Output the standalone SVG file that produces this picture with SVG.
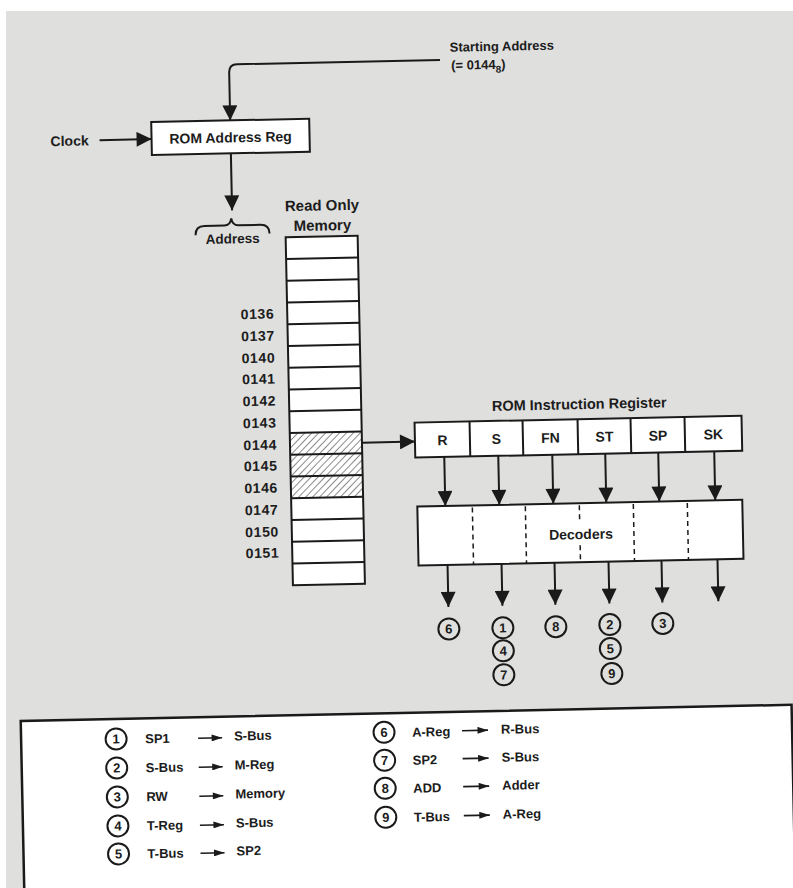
<svg xmlns="http://www.w3.org/2000/svg" width="793" height="888" viewBox="0 0 793 888">
<defs>
<style>
.t{font-family:"Liberation Sans",Arial,sans-serif;font-weight:bold;fill:#1c1c1c;}
.box{fill:#ffffff;stroke:#1a1a1a;stroke-width:2;}
.ln{fill:none;stroke:#1a1a1a;stroke-width:2;}
.cir{fill:none;stroke:#1a1a1a;stroke-width:2;}
.dash{stroke:#1a1a1a;stroke-width:1.5;stroke-dasharray:5 4;}
.lg{fill:none;stroke:#1a1a1a;stroke-width:1.6;}
</style>
<marker id="ah" viewBox="0 0 16 16" refX="16" refY="8" markerWidth="16" markerHeight="15" markerUnits="userSpaceOnUse" orient="auto">
<path d="M0,0 L16,8 L0,16 z" fill="#1a1a1a"/>
</marker>
<marker id="sh" viewBox="0 0 12 8" refX="12" refY="4" markerWidth="12" markerHeight="7" markerUnits="userSpaceOnUse" orient="auto">
<path d="M0,0 L12,4 L0,8 z" fill="#1a1a1a"/>
</marker>
<pattern id="hatch" patternUnits="userSpaceOnUse" width="5" height="5" patternTransform="rotate(45)">
<rect width="5" height="5" fill="#ffffff"/>
<line x1="0" y1="0" x2="0" y2="5" stroke="#2a2a2a" stroke-width="1.1"/>
</pattern>
</defs>
<rect x="0" y="0" width="793" height="888" fill="#ffffff"/>
<rect x="6" y="11" width="787" height="877" fill="#dfdfdd"/>
<g transform="rotate(-1.2 396 444)">
<g id="connectors">
<path class="ln" d="M448,61 L245,61 Q237,61 237,69 L237,117" marker-end="url(#ah)"/>
<path class="ln" d="M106,134 L158,134" marker-end="url(#ah)"/>
<path class="ln" d="M237,150 L237,207" marker-end="url(#ah)"/>
<path class="ln" d="M362,442 L415,442" marker-end="url(#ah)"/>
<path class="ln" d="M444,458 L444,507" marker-end="url(#ah)"/>
<path class="ln" d="M498,458 L498,507" marker-end="url(#ah)"/>
<path class="ln" d="M552,458 L552,507" marker-end="url(#ah)"/>
<path class="ln" d="M605,458 L605,507" marker-end="url(#ah)"/>
<path class="ln" d="M658,458 L658,507" marker-end="url(#ah)"/>
<path class="ln" d="M714,458 L714,507" marker-end="url(#ah)"/>
<path class="ln" d="M445,566 L445,608" marker-end="url(#ah)"/>
<path class="ln" d="M499,566 L499,608" marker-end="url(#ah)"/>
<path class="ln" d="M552,566 L552,608" marker-end="url(#ah)"/>
<path class="ln" d="M606,566 L606,608" marker-end="url(#ah)"/>
<path class="ln" d="M659,566 L659,608" marker-end="url(#ah)"/>
<path class="ln" d="M715,566 L715,608" marker-end="url(#ah)"/>
</g>
<g id="starting-address">
<text class="t" x="458" y="53" font-size="13">Starting Address</text>
<text class="t" x="459" y="71" font-size="13">(= 0144<tspan font-size="10" dy="4">8</tspan><tspan dy="-4">)</tspan></text>
</g>
<g id="clock">
<text class="t" x="76" y="139" font-size="14" text-anchor="middle">Clock</text>
</g>
<g id="rom-address-reg">
<rect class="box" x="158" y="117" width="158" height="33"/>
<text class="t" x="237" y="139" font-size="14" text-anchor="middle">ROM Address Reg</text>
</g>
<g id="address">
<path class="ln" d="M200,231 Q200,222 209,222 L229,222 Q235,222 236,215 Q237,222 243,222 L265,222 Q274,222 274,231"/>
<text class="t" x="237" y="240" font-size="13.5" text-anchor="middle">Address</text>
</g>
<g id="rom">
<text class="t" x="327" y="209" font-size="15" text-anchor="middle">Read Only</text>
<text class="t" x="327" y="229" font-size="15" text-anchor="middle">Memory</text>
<rect x="290" y="235" width="72" height="348" fill="#ffffff"/>
<rect x="290" y="430.75" width="72" height="65.25" fill="url(#hatch)"/>
<rect x="290" y="235" width="72" height="348" fill="none" stroke="#1a1a1a" stroke-width="2"/>
<g class="ln">
<line x1="290" y1="256.75" x2="362" y2="256.75"/>
<line x1="290" y1="278.5" x2="362" y2="278.5"/>
<line x1="290" y1="300.25" x2="362" y2="300.25"/>
<line x1="290" y1="322" x2="362" y2="322"/>
<line x1="290" y1="343.75" x2="362" y2="343.75"/>
<line x1="290" y1="365.5" x2="362" y2="365.5"/>
<line x1="290" y1="387.25" x2="362" y2="387.25"/>
<line x1="290" y1="409" x2="362" y2="409"/>
<line x1="290" y1="430.75" x2="362" y2="430.75"/>
<line x1="290" y1="452.5" x2="362" y2="452.5"/>
<line x1="290" y1="474.25" x2="362" y2="474.25"/>
<line x1="290" y1="496" x2="362" y2="496"/>
<line x1="290" y1="517.75" x2="362" y2="517.75"/>
<line x1="290" y1="539.5" x2="362" y2="539.5"/>
<line x1="290" y1="561.25" x2="362" y2="561.25"/>
</g>
<g class="t" font-size="14" text-anchor="end" letter-spacing="0.6">
<text x="277" y="316">0136</text>
<text x="277" y="338">0137</text>
<text x="277" y="360">0140</text>
<text x="277" y="381">0141</text>
<text x="277" y="403">0142</text>
<text x="277" y="425">0143</text>
<text x="277" y="447">0144</text>
<text x="277" y="468">0145</text>
<text x="277" y="490">0146</text>
<text x="277" y="512">0147</text>
<text x="277" y="534">0150</text>
<text x="277" y="555">0151</text>
</g>
</g>
<g id="rom-instruction-register">
<text class="t" x="580" y="413" font-size="14.5" text-anchor="middle">ROM Instruction Register</text>
<rect class="box" x="415" y="423" width="327" height="35"/>
<g class="ln">
<line x1="470" y1="423" x2="470" y2="458"/>
<line x1="523" y1="423" x2="523" y2="458"/>
<line x1="578" y1="423" x2="578" y2="458"/>
<line x1="631" y1="423" x2="631" y2="458"/>
<line x1="685" y1="423" x2="685" y2="458"/>
</g>
<g class="t" font-size="14" text-anchor="middle">
<text x="442.5" y="446">R</text>
<text x="496.5" y="446">S</text>
<text x="550.5" y="446">FN</text>
<text x="604.5" y="446">ST</text>
<text x="658" y="446">SP</text>
<text x="713.5" y="446">SK</text>
</g>
</g>
<g id="decoders">
<rect class="box" x="416" y="507" width="325" height="59"/>
<line class="dash" x1="471" y1="509" x2="471" y2="566"/>
<line class="dash" x1="524" y1="509" x2="524" y2="566"/>
<line class="dash" x1="578" y1="509" x2="578" y2="523"/>
<line class="dash" x1="578" y1="549" x2="578" y2="566"/>
<line class="dash" x1="632" y1="509" x2="632" y2="566"/>
<line class="dash" x1="686" y1="509" x2="686" y2="566"/>
<text class="t" x="579" y="543" font-size="14" text-anchor="middle">Decoders</text>
</g>
<g id="outputs" class="t" font-size="13" text-anchor="middle">
<circle class="cir" cx="445" cy="630" r="10.5"/><text x="445" y="634.6">6</text>
<circle class="cir" cx="499" cy="630" r="10.5"/><text x="499" y="634.6">1</text>
<circle class="cir" cx="499" cy="653" r="10.5"/><text x="499" y="657.6">4</text>
<circle class="cir" cx="499" cy="677" r="10.5"/><text x="499" y="681.6">7</text>
<circle class="cir" cx="552" cy="630" r="10.5"/><text x="552" y="634.6">8</text>
<circle class="cir" cx="606" cy="629" r="10.5"/><text x="606" y="633.6">2</text>
<circle class="cir" cx="606" cy="653" r="10.5"/><text x="606" y="657.6">5</text>
<circle class="cir" cx="607" cy="678" r="10.5"/><text x="607" y="682.6">9</text>
<circle class="cir" cx="659" cy="629" r="10.5"/><text x="659" y="633.6">3</text>
</g>
<g id="legend">
<rect x="15" y="713" width="771" height="190" fill="#ffffff" stroke="#1a1a1a" stroke-width="2.5"/>
<g class="t" font-size="13">
<circle class="cir" cx="110" cy="733" r="10.5"/><text x="110" y="737.6" text-anchor="middle">1</text>
<text x="139" y="738">SP1</text><path class="lg" d="M192,734 L216,734" marker-end="url(#sh)"/><text x="228" y="737">S-Bus</text>
<circle class="cir" cx="110" cy="762" r="10.5"/><text x="110" y="766.6" text-anchor="middle">2</text>
<text x="139" y="767">S-Bus</text><path class="lg" d="M192,763 L216,763" marker-end="url(#sh)"/><text x="228" y="766">M-Reg</text>
<circle class="cir" cx="110" cy="791" r="10.5"/><text x="110" y="795.6" text-anchor="middle">3</text>
<text x="139" y="796">RW</text><path class="lg" d="M192,792 L216,792" marker-end="url(#sh)"/><text x="228" y="795">Memory</text>
<circle class="cir" cx="110" cy="820" r="10.5"/><text x="110" y="824.6" text-anchor="middle">4</text>
<text x="139" y="825">T-Reg</text><path class="lg" d="M192,821 L216,821" marker-end="url(#sh)"/><text x="228" y="824">S-Bus</text>
<circle class="cir" cx="110" cy="848" r="10.5"/><text x="110" y="852.6" text-anchor="middle">5</text>
<text x="139" y="853">T-Bus</text><path class="lg" d="M192,849 L216,849" marker-end="url(#sh)"/><text x="228" y="852">SP2</text>
<circle class="cir" cx="378" cy="732" r="10.5"/><text x="378" y="736.6" text-anchor="middle">6</text>
<text x="406" y="737">A-Reg</text><path class="lg" d="M456,732 L482,732" marker-end="url(#sh)"/><text x="495" y="736">R-Bus</text>
<circle class="cir" cx="378" cy="760" r="10.5"/><text x="378" y="764.6" text-anchor="middle">7</text>
<text x="406" y="765">SP2</text><path class="lg" d="M456,760 L482,760" marker-end="url(#sh)"/><text x="495" y="764">S-Bus</text>
<circle class="cir" cx="378" cy="788" r="10.5"/><text x="378" y="792.6" text-anchor="middle">8</text>
<text x="406" y="793">ADD</text><path class="lg" d="M456,788 L482,788" marker-end="url(#sh)"/><text x="495" y="792">Adder</text>
<circle class="cir" cx="378" cy="817" r="10.5"/><text x="378" y="821.6" text-anchor="middle">9</text>
<text x="406" y="822">T-Bus</text><path class="lg" d="M456,817 L482,817" marker-end="url(#sh)"/><text x="495" y="821">A-Reg</text>
</g>
</g>
</g>
</svg>
